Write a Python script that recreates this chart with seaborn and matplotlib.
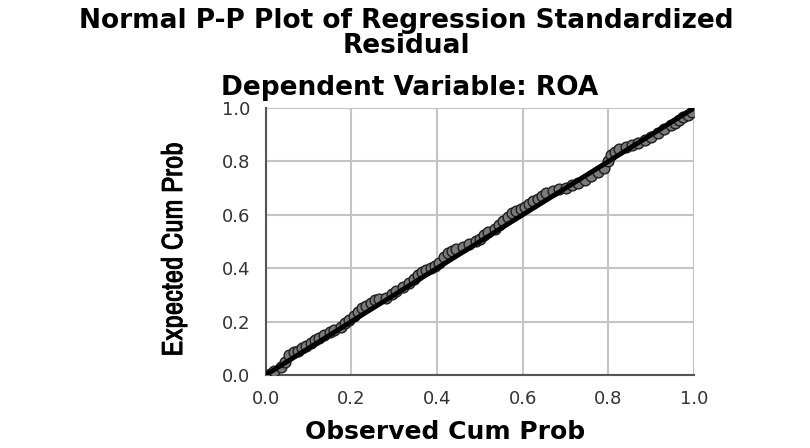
import pandas as pd
import seaborn as sns
import matplotlib.pyplot as plt
import matplotlib.patheffects as pe

# observed vs expected cumulative probabilities
observed = [0.010, 0.020, 0.035, 0.045, 0.055, 0.065, 0.075, 0.085, 0.095, 0.105,
            0.115, 0.125, 0.135, 0.150, 0.160, 0.175, 0.185, 0.195, 0.205, 0.215,
            0.225, 0.235, 0.245, 0.255, 0.265, 0.280, 0.295, 0.305, 0.320, 0.335,
            0.345, 0.355, 0.365, 0.375, 0.385, 0.395, 0.405, 0.415, 0.425, 0.435,
            0.445, 0.460, 0.475, 0.490, 0.500, 0.510, 0.520, 0.535, 0.545, 0.555,
            0.565, 0.575, 0.585, 0.595, 0.605, 0.615, 0.625, 0.635, 0.645, 0.655,
            0.670, 0.685, 0.700, 0.715, 0.730, 0.745, 0.760, 0.775, 0.790, 0.800,
            0.805, 0.815, 0.825, 0.840, 0.855, 0.870, 0.885, 0.900, 0.915, 0.930,
            0.945, 0.955, 0.965, 0.975, 0.985, 0.995]
expected = [0.005, 0.015, 0.030, 0.050, 0.075, 0.085, 0.090, 0.100, 0.110, 0.120,
            0.130, 0.140, 0.150, 0.160, 0.170, 0.180, 0.195, 0.205, 0.220, 0.235,
            0.250, 0.260, 0.270, 0.280, 0.285, 0.290, 0.305, 0.315, 0.330, 0.345,
            0.360, 0.375, 0.385, 0.395, 0.400, 0.410, 0.420, 0.440, 0.455, 0.465,
            0.470, 0.480, 0.490, 0.500, 0.510, 0.525, 0.535, 0.545, 0.560, 0.575,
            0.590, 0.605, 0.615, 0.620, 0.630, 0.640, 0.650, 0.660, 0.670, 0.680,
            0.690, 0.695, 0.700, 0.710, 0.720, 0.730, 0.745, 0.760, 0.775, 0.800,
            0.825, 0.835, 0.845, 0.855, 0.860, 0.870, 0.880, 0.890, 0.905, 0.920,
            0.935, 0.945, 0.955, 0.965, 0.975, 0.985]
diag = [0.0, 1.0]
ticks = [0.0, 0.2, 0.4, 0.6, 0.8, 1.0]
tick_labels = ["0.0", "0.2", "0.4", "0.6", "0.8", "1.0"]

df = pd.DataFrame({"obs": observed, "exp": expected})

sns.set_style("white")
fig = plt.figure(figsize=(8.1, 4.48), dpi=100)
ax = fig.add_axes([0.328, 0.163, 0.529, 0.596])

sns.scatterplot(data=df, x="obs", y="exp", ax=ax, color="#7a7a7a",
                edgecolor="#1e1e1e", linewidth=1.0, s=60, zorder=3)
sns.lineplot(x=diag, y=diag, ax=ax, color="black", linewidth=3.5, zorder=4)

ax.set_xlim(0, 1)
ax.set_ylim(0, 1)
ax.set_xticks(ticks)
ax.set_yticks(ticks)
ax.set_xticklabels(tick_labels)
ax.set_yticklabels(tick_labels)
ax.tick_params(length=0, labelsize=13, labelcolor="#333333", pad=11)
ax.grid(True, color="#c4c4c4", linewidth=1.5)
ax.set_axisbelow(True)
for side in ["top", "right"]:
    ax.spines[side].set_visible(False)
for side in ["left", "bottom"]:
    ax.spines[side].set_color("#555555")
    ax.spines[side].set_linewidth(1.5)

ax.set_xlabel("Observed Cum Prob", fontsize=18, fontweight="bold",
              family="DejaVu Sans", color="black")
ax.xaxis.set_label_coords(0.418, -0.213)
ax.xaxis.label.set_va("center")
ax.set_ylabel("Expected Cum Prob", fontsize=21, family=["Archivo Narrow", "DejaVu Sans"],
              color="black", path_effects=[pe.withStroke(linewidth=0.6, foreground="black")])
ax.yaxis.set_label_coords(-0.215, 0.47)
ax.yaxis.label.set_va("center")

fig.text(0.502, 0.925, "Normal P-P Plot of Regression Standardized\nResidual",
         ha="center", va="center", fontsize=19, fontweight="bold",
         family="DejaVu Sans", linespacing=0.95, color="black")
fig.text(0.506, 0.803, "Dependent Variable: ROA", ha="center", va="center",
         fontsize=19, fontweight="bold", family="DejaVu Sans", color="black")

fig.savefig("out.png", dpi=100)
